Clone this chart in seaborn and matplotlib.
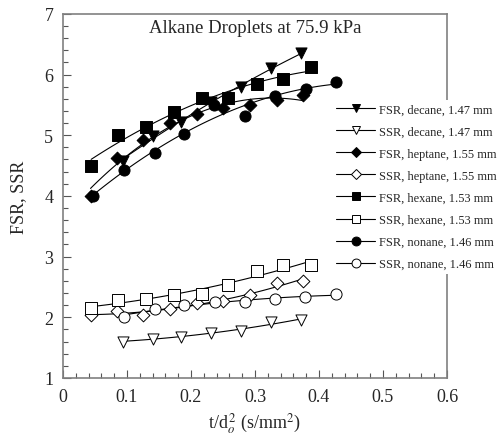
import numpy as np
import pandas as pd
import matplotlib
matplotlib.use('Agg')
import matplotlib.pyplot as plt
from matplotlib.lines import Line2D
import seaborn as sns

# values
decane_x = [0.093, 0.140, 0.185, 0.232, 0.278, 0.325, 0.372]
decane_fsr = [4.58, 4.99, 5.22, 5.55, 5.80, 6.10, 6.35]
decane_ssr = [1.60, 1.65, 1.68, 1.74, 1.78, 1.92, 1.96]

heptane_x = [0.043, 0.084, 0.125, 0.167, 0.209, 0.250, 0.292, 0.334, 0.375]
heptane_fsr = [4.00, 4.63, 4.92, 5.20, 5.35, 5.45, 5.49, 5.58, 5.66]
heptane_ssr = [2.04, 2.10, 2.03, 2.14, 2.24, 2.27, 2.36, 2.57, 2.60]

hexane_x = [0.044, 0.086, 0.130, 0.173, 0.217, 0.258, 0.303, 0.344, 0.387]
hexane_fsr = [4.50, 5.00, 5.14, 5.38, 5.62, 5.62, 5.85, 5.92, 6.13]
hexane_ssr = [2.15, 2.29, 2.30, 2.37, 2.38, 2.54, 2.76, 2.86, 2.86]

nonane_fsr_x = [0.047, 0.095, 0.143, 0.189, 0.236, 0.284, 0.332, 0.380, 0.426]
nonane_fsr = [4.00, 4.42, 4.71, 5.02, 5.50, 5.31, 5.64, 5.76, 5.88]
nonane_ssr_x = [0.095, 0.143, 0.189, 0.237, 0.284, 0.331, 0.378, 0.426]
nonane_ssr = [2.01, 2.14, 2.20, 2.25, 2.25, 2.30, 2.34, 2.38]

series = [
    ('FSR, decane, 1.47 mm', decane_x, decane_fsr, 'v', True),
    ('SSR, decane, 1.47 mm', decane_x, decane_ssr, 'v', False),
    ('FSR, heptane, 1.55 mm', heptane_x, heptane_fsr, 'D', True),
    ('SSR, heptane, 1.55 mm', heptane_x, heptane_ssr, 'D', False),
    ('FSR, hexane, 1.53 mm', hexane_x, hexane_fsr, 's', True),
    ('SSR, hexane, 1.53 mm', hexane_x, hexane_ssr, 's', False),
    ('FSR, nonane, 1.46 mm', nonane_fsr_x, nonane_fsr, 'o', True),
    ('SSR, nonane, 1.46 mm', nonane_ssr_x, nonane_ssr, 'o', False),
]

sns.set_style('white')
plt.rcParams['font.family'] = ['Liberation Serif', 'DejaVu Serif']
plt.rcParams['mathtext.fontset'] = 'stix'

fig = plt.figure(figsize=(5, 4.39), dpi=100)
ax = fig.add_axes([0.126, 0.1367, 0.768, 0.8295])

handles = []
for label, xs, ys, mk, filled in series:
    df = pd.DataFrame({'x': xs, 'y': ys})
    sns.regplot(data=df, x='x', y='y', order=2, ci=None, scatter=False, ax=ax,
                line_kws={'color': 'black', 'lw': 0.8})
    size = 6.5 if mk == 'D' else 8
    fc = 'black' if filled else 'white'
    sns.scatterplot(data=df, x='x', y='y', marker=mk, s=size ** 2, color=fc,
                    edgecolor='black', linewidth=0.7, ax=ax, zorder=3)
    handles.append(Line2D([], [], color='black', lw=0.8, marker=mk, markersize=size * 0.8,
                          markerfacecolor=fc, markeredgecolor='black',
                          markeredgewidth=0.7, label=label))

ax.set_xlim(0, 0.6)
ax.set_ylim(1, 7)
ax.set_xticks(np.arange(0, 0.61, 0.1))
ax.set_xticklabels(['0', '0.1', '0.2', '0.3', '0.4', '0.5', '0.6'])
ax.set_xticks(np.arange(0, 0.601, 0.02), minor=True)
ax.set_yticks(range(1, 8))
ax.set_yticks(np.arange(1, 7.01, 0.2), minor=True)
ax.tick_params(which='both', direction='in', bottom=True, left=True, top=False, right=False,
               labelsize=13, color='#555555', pad=7)
ax.tick_params(which='major', length=6, width=0.8)
ax.tick_params(which='minor', length=3.5, width=0.8)
for sp in ax.spines.values():
    sp.set_color('#808080')
    sp.set_linewidth(1.2)

ax.set_xlabel(r't/d$_o^{\,2}$ (s/mm$^2$)', fontsize=13, labelpad=4)
ax.set_ylabel('FSR, SSR', fontsize=13, labelpad=12)
ax.text(0.5, 0.962, 'Alkane Droplets at 75.9 kPa', transform=ax.transAxes,
        ha='center', va='center', fontsize=13.5)

leg = fig.legend(handles=handles, loc='upper left', bbox_to_anchor=(0.652, 0.785),
                 fontsize=8.9, frameon=True, framealpha=1, facecolor='white',
                 edgecolor='none', handlelength=3.2, handletextpad=0.25,
                 labelspacing=0.82, borderpad=0.3, fancybox=False)
leg.set_zorder(10)

fig.savefig('out.png', dpi=100)
